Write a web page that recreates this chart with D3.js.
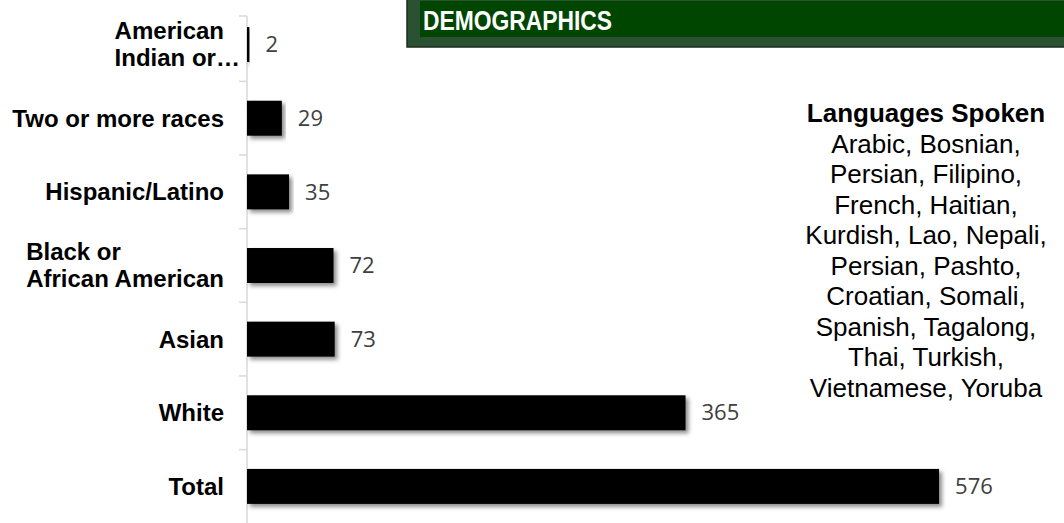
<!DOCTYPE html>
<html>
<head>
<meta charset="utf-8">
<script src="https://cdn.jsdelivr.net/npm/d3@7/dist/d3.min.js"></script>
<style>
  body { margin: 0; background: #fff; }
  svg { display: block; }
</style>
</head>
<body>
<script>
// chart data
var categories = [
  ['American', 'Indian or…'],
  ['Two or more races'],
  ['Hispanic/Latino'],
  ['Black or', 'African American'],
  ['Asian'],
  ['White'],
  ['Total']
];
var values = [2, 29, 35, 72, 73, 365, 576];
var title = 'DEMOGRAPHICS';
var langHeading = 'Languages Spoken';
var langLines = [
  'Arabic, Bosnian,',
  'Persian, Filipino,',
  'French, Haitian,',
  'Kurdish, Lao, Nepali,',
  'Persian, Pashto,',
  'Croatian, Somali,',
  'Spanish, Tagalong,',
  'Thai, Turkish,',
  'Vietnamese, Yoruba'
];

var width = 1064, height = 523;

var svg = d3.select('body').append('svg')
  .attr('width', width)
  .attr('height', height);

var defs = svg.append('defs');
defs.append('filter').attr('id', 'shadow')
  .attr('x', '-5%').attr('y', '-30%').attr('width', '115%').attr('height', '180%')
  .append('feDropShadow')
  .attr('dx', 3).attr('dy', 3)
  .attr('stdDeviation', 2.2)
  .attr('flood-color', '#000')
  .attr('flood-opacity', 0.45);

var keys = categories.map(function(d, i) { return 'c' + i; });

var y = d3.scaleBand()
  .domain(keys)
  .range([5, 526])
  .paddingInner(0.525)
  .paddingOuter(0.3);

var x = d3.scaleLinear()
  .domain([0, 680])
  .range([247, 1064]);

// axis line + ticks at band boundaries
var axis = svg.append('g');
axis.append('line')
  .attr('x1', 247).attr('x2', 247)
  .attr('y1', 16).attr('y2', height)
  .attr('stroke', '#d9d9d9').attr('stroke-width', 1.5);

var gap = (y.step() - y.bandwidth()) / 2;
var tickYs = [16].concat(keys.slice(1).map(function(k) { return y(k) - gap; }));
axis.selectAll('.tick').data(tickYs).enter().append('line')
  .attr('class', 'tick')
  .attr('x1', 239).attr('x2', 247)
  .attr('y1', function(d) { return d; })
  .attr('y2', function(d) { return d; })
  .attr('stroke', '#d9d9d9').attr('stroke-width', 1.5);

// bars
svg.selectAll('rect.bar').data(values).enter().append('rect')
  .attr('class', 'bar')
  .attr('x', x(0))
  .attr('y', function(d, i) { return y(keys[i]); })
  .attr('width', function(d) { return Math.max(1.5, x(d) - x(0)); })
  .attr('height', y.bandwidth())
  .attr('fill', '#000')
  .attr('filter', 'url(#shadow)');

// value labels
svg.selectAll('text.val').data(values).enter().append('text')
  .attr('class', 'val')
  .attr('x', function(d) { return Math.max(x(d), x(0) + 1.5) + 16; })
  .attr('y', function(d, i) { return y(keys[i]) + y.bandwidth() / 2; })
  .attr('dy', '0.35em')
  .attr('font-family', 'Open Sans, sans-serif')
  .attr('font-size', 22)
  .attr('fill', '#404040')
  .text(function(d) { return d; });

// category labels
var labelRight = 224;
var lineH = 27;
categories.forEach(function(lines, i) {
  var cy = y(keys[i]) + y.bandwidth() / 2;
  var g = svg.append('g');
  var texts = lines.map(function(t, j) {
    return g.append('text')
      .attr('y', cy + (j - (lines.length - 1) / 2) * lineH)
      .attr('dy', '0.35em')
      .attr('font-family', 'Liberation Sans, Arial, sans-serif')
      .attr('font-weight', 'bold')
      .attr('font-size', 24)
      .attr('fill', '#000')
      .text(t);
  });
  if (lines.length === 1) {
    texts[0].attr('x', labelRight).attr('text-anchor', 'end');
  } else {
    // wrapped lines are left aligned inside a right aligned block
    var w = d3.max(texts, function(t) {
      var full = t.node().getComputedTextLength();
      var s = t.text();
      if (s.slice(-1) === '…') {
        t.text(s.slice(0, -1));
        full = t.node().getComputedTextLength();
        t.text(s);
      }
      return full;
    });
    texts.forEach(function(t) { t.attr('x', labelRight - w); });
  }
});

// title banner
var banner = svg.append('g');
banner.append('rect')
  .attr('x', 407).attr('y', -2)
  .attr('width', width - 407 + 4).attr('height', 49)
  .attr('fill', '#2a5132')
  .attr('stroke', '#1e2a20').attr('stroke-width', 1.5);
banner.append('rect')
  .attr('x', 420).attr('y', 1)
  .attr('width', width - 420).attr('height', 36)
  .attr('fill', '#004600');
banner.append('text')
  .attr('x', 423).attr('y', 30)
  .attr('font-family', 'Liberation Sans, Arial, sans-serif')
  .attr('font-weight', 'bold')
  .attr('font-size', 27)
  .attr('fill', '#fff')
  .attr('textLength', 189)
  .attr('lengthAdjust', 'spacingAndGlyphs')
  .text(title);

// languages block
var lx = 926;
svg.append('text')
  .attr('x', lx).attr('y', 113)
  .attr('dy', '0.35em')
  .attr('text-anchor', 'middle')
  .attr('font-family', 'Liberation Sans, Arial, sans-serif')
  .attr('font-weight', 'bold')
  .attr('font-size', 26)
  .attr('fill', '#000')
  .text(langHeading);

svg.selectAll('text.lang').data(langLines).enter().append('text')
  .attr('class', 'lang')
  .attr('x', lx)
  .attr('y', function(d, i) { return 113 + (i + 1) * 30.5; })
  .attr('dy', '0.35em')
  .attr('text-anchor', 'middle')
  .attr('font-family', 'Liberation Sans, Arial, sans-serif')
  .attr('font-size', 26)
  .attr('fill', '#000')
  .text(function(d) { return d; });
</script>
</body>
</html>
